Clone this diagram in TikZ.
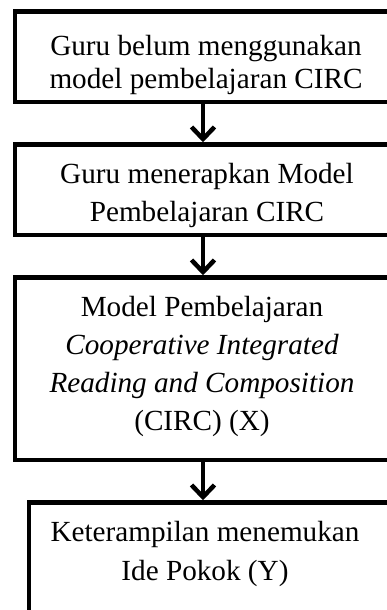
\documentclass[tikz,border=0pt]{standalone}
\usepackage{fontspec}
\setmainfont{Liberation Serif}
\usetikzlibrary{arrows.meta}
\begin{document}
\begin{tikzpicture}[x=1pt,y=-1pt,
  box/.style={draw, line width=4.5pt, rectangle, inner sep=0pt},
  txt/.style={align=center, anchor=base, inner sep=0pt},
  arr/.style={line width=4.5pt, -{Straight Barb[length=12pt,width=23pt]}}]
\useasboundingbox (0,0) rectangle (387,610);
\clip (0,0) rectangle (387,610);
\node[box, minimum width=376pt, minimum height=90.5pt] (b1) at (203,56.75) {};
\node[box, minimum width=376pt, minimum height=90.5pt] (b2) at (203,189.75) {};
\node[box, minimum width=376pt, minimum height=182.5pt] (b3) at (203,368.75) {};
\node[box, minimum width=371pt, minimum height=147.5pt] (b4) at (214.5,576.25) {};
\node[txt, font=\fontsize{29.2}{33}\selectfont] (t1) at (206,88.3) {Guru belum menggunakan\\model pembelajaran CIRC};
\node[txt, font=\fontsize{29.2}{38}\selectfont] (t2) at (207,221.7) {Guru menerapkan Model\\Pembelajaran CIRC};
\node[txt, font=\fontsize{29.2}{37.7}\selectfont] (t3) at (202,430) {Model Pembelajaran\\\textit{Cooperative Integrated}\\\textit{Reading and Composition}\\(CIRC) (X)};
\node[txt, font=\fontsize{29.2}{38.5}\selectfont] (t4) at (205,580) {Keterampilan menemukan\\Ide Pokok (Y)};
\draw[arr] (b1.south) -- (b2.north);
\draw[arr] (b2.south) -- (b3.north);
\draw[arr] (b3.south) -- (b3.south |- b4.north);
\end{tikzpicture}
\end{document}
